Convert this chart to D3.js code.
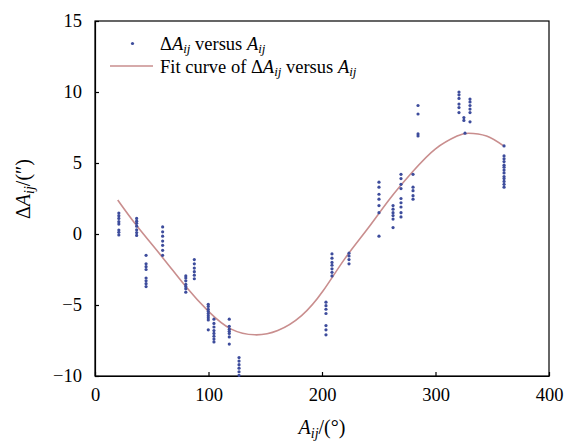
<!DOCTYPE html>
<html>
<head>
<meta charset="utf-8">
<script src="https://cdn.jsdelivr.net/npm/d3@7"></script>
<style>
  body { margin: 0; background: #fff; }
</style>
</head>
<body>
<div id="chart"></div>
<script>
const groupAngles = [21, 36.7, 45, 59.6, 80, 87.5, 99.8, 104.8, 118.3, 126.9,
  203.5, 208.8, 223.8, 250.2, 262.6, 269.6, 280.2, 284.6, 320.7, 325, 326, 330.4, 360.4];
const groupDeltas = [
  [1.48, 1.29, 1.1, 0.87, 0.7, 0.28, 0.12, -0.07],
  [1.1, 0.9, 0.75, 0.55, 0.3, 0.1, -0.1],
  [-1.5, -2.1, -2.3, -2.5, -3.1, -3.3, -3.5, -3.7],
  [0.5, 0.15, -0.15, -0.5, -0.8, -1.15, -1.5],
  [-2.95, -3.1, -3.3, -3.55, -3.7, -3.85, -4.1],
  [-1.8, -2.1, -2.4, -2.65, -2.9, -3.15],
  [-4.95, -5.1, -5.3, -5.45, -5.6, -5.75, -5.9, -6.05, -6.75],
  [-6.0, -6.3, -6.55, -6.8, -7.0, -7.2, -7.4, -7.6],
  [-6.0, -6.5, -6.7, -6.85, -7.0, -7.25, -7.75],
  [-8.7, -8.95, -9.2, -9.45, -9.7, -9.95],
  [-4.8, -5.05, -5.3, -5.6, -6.45, -6.75, -7.1],
  [-1.4, -1.7, -2.0, -2.2, -2.45, -2.7, -2.95],
  [-1.35, -1.55, -1.8, -2.1],
  [3.65, 3.3, 2.8, 2.45, 2.0, 1.5, -0.15],
  [2.0, 1.75, 1.5, 1.3, 1.05, 0.45],
  [4.2, 3.9, 3.5, 3.2, 2.5, 2.2, 1.9, 1.5, 1.2],
  [4.2, 3.3, 3.05, 2.7, 2.45],
  [9.05, 8.45, 7.05, 6.9],
  [10.0, 9.8, 9.55, 9.15, 8.9, 8.55],
  [8.2, 8.0],
  [7.1],
  [9.5, 9.3, 9.05, 8.8, 8.55, 7.9],
  [6.2, 5.5, 5.3, 5.1, 4.85, 4.7, 4.5, 4.3, 4.05, 3.9, 3.7, 3.5, 3.3]
];

// fitted curve at a handful of azimuths
const fitAngles = [20, 37, 60, 80, 100, 120, 141, 161, 182, 201, 220, 240, 260, 280, 300, 319, 329, 345, 360];
const fitDeltas = [2.4, 0.56, -1.7, -3.7, -5.45, -6.7, -7.1, -6.8, -5.75, -4.0, -1.75, 0.35, 2.5, 4.4, 6.0, 6.9, 7.1, 6.9, 6.2];

const xTicks = [0, 100, 200, 300, 400];
const yTicks = [-10, -5, 0, 5, 10, 15];

const width = 566, height = 443;
const margin = {top: 21, right: 17, bottom: 67, left: 95};
const serif = "Liberation Serif";

const obs = groupAngles.flatMap((a, i) => groupDeltas[i].map(v => [a, v]));
const fit = fitAngles.map((a, i) => [a, fitDeltas[i]]);

const x = d3.scaleLinear().domain([0, 400]).range([margin.left, width - margin.right]);
const y = d3.scaleLinear().domain([-10, 15]).range([height - margin.bottom, margin.top]);

const svg = d3.select("#chart").append("svg")
    .attr("width", width)
    .attr("height", height)
    .attr("font-family", serif);

// frame
svg.append("rect")
    .attr("x", margin.left)
    .attr("y", margin.top)
    .attr("width", width - margin.left - margin.right)
    .attr("height", height - margin.top - margin.bottom)
    .attr("fill", "none")
    .attr("stroke", "#000")
    .attr("stroke-width", 1.2);

const xAxis = svg.append("g")
    .attr("transform", `translate(0,${height - margin.bottom})`)
    .call(d3.axisBottom(x).tickValues(xTicks).tickSizeInner(-4).tickSizeOuter(0).tickPadding(12));
const yAxis = svg.append("g")
    .attr("transform", `translate(${margin.left},0)`)
    .call(d3.axisLeft(y).tickValues(yTicks).tickSizeInner(-4).tickSizeOuter(0).tickPadding(13));

[xAxis, yAxis].forEach(g => {
  g.attr("font-family", serif).attr("font-size", 18.5);
  g.select(".domain").attr("stroke", "#000").attr("stroke-width", 1.2);
  g.selectAll(".tick line").attr("stroke", "#000").attr("stroke-width", 1.2);
  g.selectAll(".tick text").attr("fill", "#000").attr("font-family", serif);
});

// fit curve
svg.append("path")
    .datum(fit)
    .attr("fill", "none")
    .attr("stroke", "#c98e8e")
    .attr("stroke-width", 1.6)
    .attr("d", d3.line().x(d => x(d[0])).y(d => y(d[1])).curve(d3.curveNatural));

// observations
svg.append("g")
  .selectAll("circle")
  .data(obs)
  .join("circle")
    .attr("cx", d => x(d[0]))
    .attr("cy", d => y(d[1]))
    .attr("r", 1.6)
    .attr("fill", "#3d4c9c");

// writes italic A with subscript ij; the next tspan gets dy back up
function addA(t) {
  t.append("tspan").attr("font-style", "italic").text("A");
  t.append("tspan").attr("font-style", "italic").attr("font-size", "0.7em")
    .attr("dy", "0.25em").text("ij");
}
const back = "-0.175em"; // 0.25em at the smaller size

// legend
const lg = svg.append("g").attr("font-size", 18.5).attr("fill", "#000");
lg.append("circle").attr("cx", 132.5).attr("cy", 43.5).attr("r", 1.6).attr("fill", "#3d4c9c");
const t1 = lg.append("text").attr("font-family", serif).attr("x", 160).attr("y", 50);
t1.append("tspan").text("\u0394");
addA(t1);
t1.append("tspan").attr("dy", back).text(" versus ");
addA(t1);

lg.append("line").attr("x1", 110).attr("x2", 153).attr("y1", 66).attr("y2", 66)
  .attr("stroke", "#c98e8e").attr("stroke-width", 1.6);
const t2 = lg.append("text").attr("font-family", serif).attr("x", 160).attr("y", 73);
t2.append("tspan").text("Fit curve of \u0394");
addA(t2);
t2.append("tspan").attr("dy", back).text(" versus ");
addA(t2);

// axis titles
const xt = svg.append("text")
    .attr("font-family", serif)
    .attr("x", 322).attr("y", 434)
    .attr("text-anchor", "middle")
    .attr("font-size", 20);
addA(xt);
xt.append("tspan").attr("dy", back).text("/(\u00B0)");

const yt = svg.append("text")
    .attr("font-family", serif)
    .attr("transform", "translate(30,189) rotate(-90)")
    .attr("text-anchor", "middle")
    .attr("font-size", 20);
yt.append("tspan").text("\u0394");
addA(yt);
yt.append("tspan").attr("dy", back).text("/(\u2033)");
</script>
</body>
</html>
